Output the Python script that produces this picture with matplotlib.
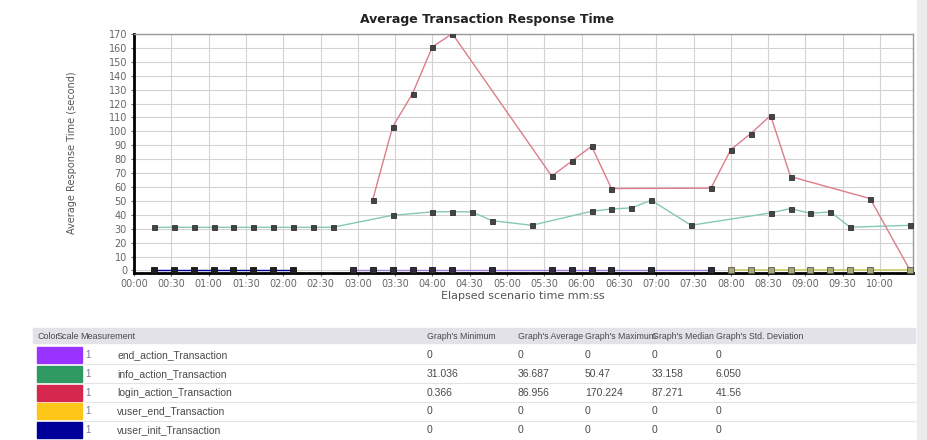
import matplotlib
matplotlib.use('agg')
import matplotlib.pyplot as plt
from matplotlib.patches import Rectangle
from matplotlib.ticker import FuncFormatter, MultipleLocator

# elapsed time in seconds, response time in seconds
vuser_init_t = [16, 32, 48, 64, 80, 96, 112, 128]
vuser_init_v = [0, 0, 0, 0, 0, 0, 0, 0]

info_action_t = [16, 32, 48, 64, 80, 96, 112, 128, 144, 160, 208, 240, 256, 272,
                 288, 320, 368, 384, 400, 416, 448, 512, 528, 544, 560, 576, 624]
info_action_v = [31.04, 31.04, 31.04, 31.04, 31.04, 31.04, 31.04, 31.04, 31.04, 31.1,
                 39.7, 42.1, 42.3, 42.1, 35.8, 32.5, 42.6, 44.2, 45.0, 50.47,
                 32.5, 41.4, 44.5, 41.1, 42.1, 31.1, 32.5]

login_action_t = [192, 208, 224, 240, 256, 336, 352, 368, 384, 464, 480, 496, 512, 528, 592, 624]
login_action_v = [50.9, 103.2, 127.2, 160.8, 170.22, 67.8, 78.6, 89.3, 58.9, 59.2,
                  86.9, 98.4, 111.4, 67.5, 51.7, 0.37]

end_action_t = [176, 192, 208, 224, 240, 256, 288, 336, 352, 368, 384, 416, 464]
end_action_v = [0, 0, 0, 0, 0, 0, 0, 0, 0, 0, 0, 0, 0]

vuser_end_t = [480, 496, 512, 528, 544, 560, 576, 592, 624]
vuser_end_v = [0, 0, 0, 0, 0, 0, 0, 0, 0]

# summary table
measurements = ['end_action_Transaction', 'info_action_Transaction', 'login_action_Transaction',
                'vuser_end_Transaction', 'vuser_init_Transaction']
swatch_colors = ['#9933ff', '#2e9960', '#d6284f', '#ffc61a', '#000099']
stat_headers = ["Graph's Minimum", "Graph's Average", "Graph's Maximum",
                "Graph's Median", "Graph's Std. Deviation"]
stat_values = [
    ['0', '0', '0', '0', '0'],
    ['31.036', '36.687', '50.47', '33.158', '6.050'],
    ['0.366', '86.956', '170.224', '87.271', '41.56'],
    ['0', '0', '0', '0', '0'],
    ['0', '0', '0', '0', '0'],
]

W, H = 927, 440


def fx(x):
    return x / W


def fy(y):
    return 1 - y / H


fig = plt.figure(figsize=(9.27, 4.4), dpi=100)
fig.patch.set_facecolor('white')

ax = fig.add_axes([fx(134), fy(273), (913 - 134) / W, (273 - 34) / H])

# series lines (thin, coloured) with dark square markers
mk = dict(marker='s', ms=3.6, mfc='#454545', mec='#303030', mew=0.6)
ax.plot(info_action_t, info_action_v, color='#86c8b6', lw=1, zorder=3, **mk)
ax.plot(login_action_t, login_action_v, color='#dc7d8a', lw=1, zorder=3, **mk)
ax.plot(vuser_init_t, vuser_init_v, color='#000099', lw=1, zorder=4, clip_on=False,
        marker='s', ms=4, mfc='#1e1e1e', mec='#111111', mew=0.6)
ax.plot(end_action_t, end_action_v, color='#9f7fdd', lw=1, zorder=4, clip_on=False,
        marker='s', ms=4, mfc='#2c2c3a', mec='#111111', mew=0.6)
ax.plot(vuser_end_t, vuser_end_v, color='#cccc66', lw=1.2, zorder=4, clip_on=False,
        marker='s', ms=4, mfc='#a8a878', mec='#5a5a44', mew=0.6)

ax.set_xlim(0, 626.5)
ax.set_ylim(-1.8, 170)
ax.xaxis.set_major_locator(MultipleLocator(30))
ax.yaxis.set_major_locator(MultipleLocator(10))
ax.xaxis.set_major_formatter(FuncFormatter(lambda v, p: '%02d:%02d' % (int(v) // 60, int(v) % 60)))
ax.grid(True, color='#d2d2d2', lw=0.8)
ax.set_axisbelow(True)
ax.tick_params(labelsize=7, colors='#666666', length=2, width=0.8, pad=2)
ax.tick_params(axis='y', pad=3)

for side in ['top', 'right']:
    ax.spines[side].set_color('#9a9a9a')
    ax.spines[side].set_linewidth(1)
for side in ['left', 'bottom']:
    ax.spines[side].set_color('black')
    ax.spines[side].set_linewidth(2)

fig.text(fx(487), fy(20), 'Average Transaction Response Time', ha='center', va='center',
         fontsize=9, fontweight='bold', color='#222222')
fig.text(fx(72), fy(153), 'Average Response Time (second)', ha='center', va='center',
         rotation=90, fontsize=7, color='#555555')
fig.text(fx(523), fy(296), 'Elapsed scenario time mm:ss', ha='center', va='center',
         fontsize=8, color='#555555')

# right scroll strip
fig.patches.append(Rectangle((fx(917), 0), fx(10), 1, transform=fig.transFigure,
                             color='#ececec', zorder=0))

# table header band
tf = dict(family='Liberation Sans', color='#4a4a4a', va='center')
fig.patches.append(Rectangle((fx(33), fy(343)), fx(882), 15 / H, transform=fig.transFigure,
                             color='#e2e2e8', zorder=0))
header_y = 336
fig.text(fx(37), fy(header_y), 'Color', fontsize=6.5, **tf)
fig.text(fx(57), fy(header_y), 'Scale', fontsize=6.5, **tf)
fig.text(fx(80), fy(header_y), 'Measurement', fontsize=6.5, **tf)
col_x = [427, 518, 585, 652, 716]
for x, h in zip(col_x, stat_headers):
    fig.text(fx(x), fy(header_y), h, fontsize=6.3, **tf)

row_y0 = 355
row_h = 18.8
for i, name in enumerate(measurements):
    y = row_y0 + i * row_h
    fig.patches.append(Rectangle((fx(37), fy(y + 8)), fx(45), 16 / H,
                                 transform=fig.transFigure, color=swatch_colors[i], zorder=1))
    fig.lines.append(plt.Line2D([fx(84), fx(915)], [fy(y + 9.4), fy(y + 9.4)],
                                transform=fig.transFigure, color='#e4e4e4', lw=0.8))
    fig.text(fx(85), fy(y), '1', fontsize=7, family='Liberation Sans', color='#7a7a9a', va='center')
    fig.text(fx(117), fy(y), name, fontsize=7.5, **tf)
    for x, v in zip(col_x, stat_values[i]):
        fig.text(fx(x), fy(y), v, fontsize=7.5, **tf)

fig.savefig('out.png', dpi=100)
plt.close(fig)
